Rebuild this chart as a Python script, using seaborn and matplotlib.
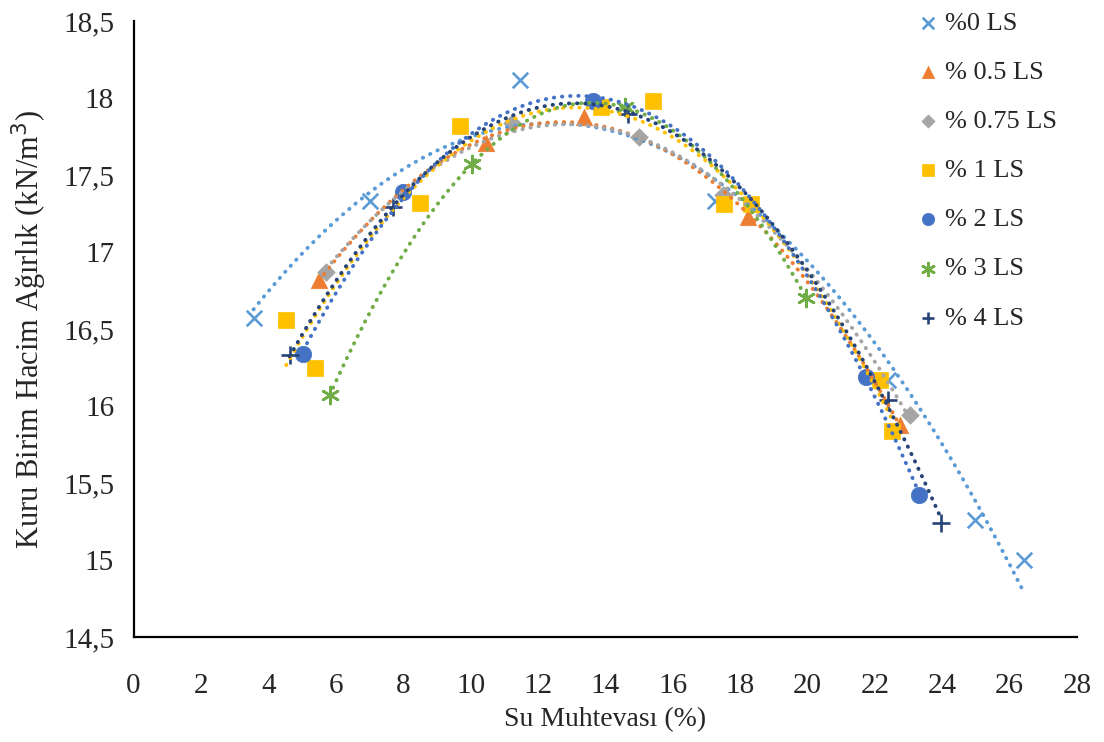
import matplotlib
matplotlib.use("Agg")
import matplotlib.pyplot as plt
from matplotlib.ticker import FuncFormatter, MultipleLocator
import seaborn as sns
import numpy as np

# Data (water content %, dry unit weight kN/m3)
labels = ["%0 LS", "% 0.5 LS", "% 0.75 LS", "% 1 LS", "% 2 LS", "% 3 LS", "% 4 LS"]
x_0 = [3.56, 7.01, 11.46, 17.25, 22.39, 24.97, 26.43]
y_0 = [16.57, 17.33, 18.12, 17.33, 16.17, 15.26, 15.00]
x_05 = [5.50, 10.47, 13.36, 18.24, 22.74]
y_05 = [16.82, 17.71, 17.88, 17.23, 15.88]
x_075 = [5.72, 11.24, 15.00, 17.49, 23.04]
y_075 = [16.87, 17.84, 17.75, 17.37, 15.94]
x_1 = [4.53, 5.38, 8.49, 9.68, 13.88, 15.42, 17.52, 18.34, 22.15, 22.52]
y_1 = [16.56, 16.25, 17.32, 17.82, 17.94, 17.98, 17.31, 17.31, 16.17, 15.84]
x_2 = [5.03, 8.00, 13.64, 21.75, 23.32]
y_2 = [16.34, 17.39, 17.98, 16.19, 15.42]
x_3 = [5.82, 10.03, 14.58, 19.97]
y_3 = [16.07, 17.57, 17.94, 16.70]
x_4 = [4.63, 7.70, 14.68, 22.40, 23.95]
y_4 = [16.33, 17.29, 17.90, 16.04, 15.24]

xs = [x_0, x_05, x_075, x_1, x_2, x_3, x_4]
ys = [y_0, y_05, y_075, y_1, y_2, y_3, y_4]
colors = ["#5B9BD5", "#ED7D31", "#A5A5A5", "#FFC000", "#4472C4", "#70AD47", "#264478"]
markers = ["x", "^", "D", "s", "o", (6, 2, 0), "+"]
sizes = [125, 140, 80, 130, 140, 150, 150]

sns.set_style("white")
plt.rcParams["font.family"] = ["Liberation Serif", "DejaVu Serif"]

fig = plt.figure(figsize=(11.04, 7.42), dpi=100)
ax = fig.add_axes([0.121, 0.1415, 0.8545, 0.830])

for i in range(len(labels)):
    line_marker = markers[i] in ("x", "+") or markers[i] == (6, 2, 0)
    if line_marker:
        sns.scatterplot(x=xs[i], y=ys[i], ax=ax, marker=markers[i], s=sizes[i],
                        color=colors[i], linewidth=1.9, zorder=2, label=labels[i])
    else:
        sns.scatterplot(x=xs[i], y=ys[i], ax=ax, marker=markers[i], s=sizes[i],
                        color=colors[i], edgecolor=colors[i], linewidth=0.5,
                        zorder=2, label=labels[i])

# polynomial (order 2) trendlines, dotted like Excel
for i in range(len(labels)):
    coef = np.polyfit(xs[i], ys[i], 2)
    xx = np.linspace(min(xs[i]), max(xs[i]), 200)
    yy = np.polyval(coef, xx)
    ax.plot(xx, yy, color=colors[i], linewidth=2.8,
            linestyle=(0, (0.1, 2.0)), dash_capstyle="round", zorder=3)

ax.set_xlim(0, 28)
ax.set_ylim(14.5, 18.5)
ax.xaxis.set_major_locator(MultipleLocator(2))
ax.yaxis.set_major_locator(MultipleLocator(0.5))
ax.yaxis.set_major_formatter(FuncFormatter(lambda v, p: f"{v:g}".replace(".", ",")))
ax.tick_params(axis="both", labelsize=21, length=0)
ax.tick_params(axis="x", pad=26)
ax.tick_params(axis="y", pad=14)

for side in ["top", "right"]:
    ax.spines[side].set_visible(False)
for side in ["left", "bottom"]:
    ax.spines[side].set_color("black")
    ax.spines[side].set_linewidth(1.6)

ax.set_xlabel("Su Muhtevası (%)", fontsize=20, labelpad=6)
ax.set_ylabel("Kuru Birim Hacim Ağırlık (kN/m$^3$)", fontsize=22, labelpad=10)

leg = ax.legend(loc="upper left", bbox_to_anchor=(0.800, 1.054), frameon=False,
                fontsize=19, labelspacing=0.97, handletextpad=0.05, markerscale=0.75,
                handlelength=1.2)

fig.savefig("out.png", dpi=100)
